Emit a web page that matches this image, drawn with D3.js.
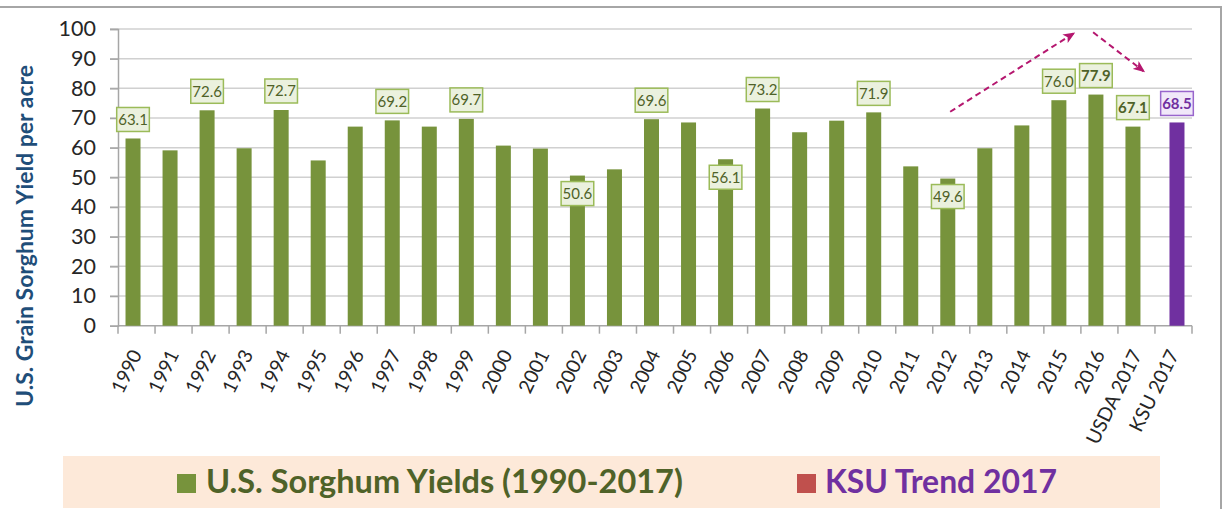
<!DOCTYPE html>
<html>
<head>
<meta charset="utf-8">
<script src="https://cdn.jsdelivr.net/npm/d3@7"></script>
<style>
  html, body { margin: 0; padding: 0; background: #fff; }
  svg { display: block; font-family: Lato, 'Open Sans', sans-serif; }
</style>
</head>
<body>
<svg id="chart" width="1225" height="509"></svg>
<script>
// data
const categories = ['1990', '1991', '1992', '1993', '1994', '1995', '1996', '1997', '1998', '1999',
	'2000', '2001', '2002', '2003', '2004', '2005', '2006', '2007', '2008', '2009',
	'2010', '2011', '2012', '2013', '2014', '2015', '2016', 'USDA 2017', 'KSU 2017'];
const usYields = [63.1, 59.1, 72.6, 59.8, 72.7, 55.7, 67.1, 69.2, 67.1, 69.7,
	60.7, 59.7, 50.6, 52.7, 69.6, 68.5, 56.1, 73.2, 65.2, 69.1,
	71.9, 53.7, 49.6, 59.8, 67.5, 76.0, 77.9, 67.1, null];
const ksuTrend = [null, null, null, null, null, null, null, null, null, null,
	null, null, null, null, null, null, null, null, null, null,
	null, null, null, null, null, null, null, null, 68.5];
const yTicks = [0, 10, 20, 30, 40, 50, 60, 70, 80, 90, 100];
const labelledCats = ['1990', '1992', '1994', '1997', '1999', '2002', '2004', '2006', '2007', '2010', '2012', '2015', '2016', 'USDA 2017'];
const insideLabelCats = ['2002', '2006', '2012'];
const boldLabelCats = ['2016', 'USDA 2017'];
const seriesNames = ['U.S. Sorghum Yields (1990-2017)', 'KSU Trend 2017'];
// dashed trend arrows, in [category position, yield]
const trendArrows = [
	{ from: [22.47, 72.1], to: [25.8, 98.5] },
	{ from: [26.33, 98.9], to: [27.69, 85.8] },
];

const green = '#77933c';
const purple = '#7030a0';

const svg = d3.select('#chart');
const margin = { left: 118, right: 1192, top: 29, bottom: 325.7 };

const x = d3.scaleBand().domain(categories).range([margin.left, margin.right]).padding(0);
const xPos = d3.scaleLinear().domain([0, categories.length]).range([margin.left, margin.right]);
const y = d3.scaleLinear().domain([0, 100]).range([margin.bottom, margin.top]);
const seriesOffset = d3.scalePoint().domain(['us', 'ksu']).range([-3.5, 3.5]);
const barW = 15;

// outer frame
svg.append('path')
	.attr('d', 'M0,7 H1221 V512')
	.attr('fill', 'none')
	.attr('stroke', '#a6a6a6')
	.attr('stroke-width', 2);

// gridlines
svg.append('g')
	.selectAll('line')
	.data(yTicks.filter((t) => t > 0))
	.join('line')
	.attr('x1', margin.left - 8)
	.attr('x2', margin.right)
	.attr('y1', (d) => y(d))
	.attr('y2', (d) => y(d))
	.attr('stroke', '#d0d0d0')
	.attr('stroke-width', 1.5);

// y axis
const yAxis = d3.axisLeft(y).tickValues(yTicks).tickSize(8).tickPadding(14);
const gy = svg.append('g').attr('transform', `translate(${margin.left},0)`).call(yAxis);
gy.select('.domain').attr('stroke', '#a6a6a6').attr('stroke-width', 1.5);
gy.selectAll('.tick line').attr('stroke', '#a6a6a6').attr('stroke-width', 1.5);
gy.selectAll('.tick text')
	.attr('fill', '#262626')
	.style('font-size', '21.5px')
	.style('font-family', 'Lato, sans-serif');

// x axis: ticks between categories
const gx = svg.append('g');
gx.append('line')
	.attr('x1', margin.left)
	.attr('x2', margin.right)
	.attr('y1', margin.bottom)
	.attr('y2', margin.bottom)
	.attr('stroke', '#a6a6a6')
	.attr('stroke-width', 1.5);
gx.selectAll('line.tk')
	.data(d3.range(categories.length + 1))
	.join('line')
	.attr('class', 'tk')
	.attr('x1', (i) => xPos(i))
	.attr('x2', (i) => xPos(i))
	.attr('y1', margin.bottom)
	.attr('y2', margin.bottom + 8)
	.attr('stroke', '#a6a6a6')
	.attr('stroke-width', 1.5);
gx.selectAll('text')
	.data(categories)
	.join('text')
	.attr('transform', (d) => `translate(${x(d) + x.bandwidth() / 2 + 6},354) rotate(-64)`)
	.attr('text-anchor', 'end')
	.attr('fill', '#262626')
	.style('font-size', '19.5px')
	.text((d) => d);

// bars
const bars = svg.append('g');
bars.selectAll('rect.us')
	.data(categories.map((c, i) => ({ c, v: usYields[i] })).filter((d) => d.v != null))
	.join('rect')
	.attr('class', 'us')
	.attr('x', (d) => x(d.c) + x.bandwidth() / 2 + seriesOffset('us') - barW / 2)
	.attr('width', barW)
	.attr('y', (d) => y(d.v))
	.attr('height', (d) => y(0) - y(d.v))
	.attr('fill', green);
bars.selectAll('rect.ksu')
	.data(categories.map((c, i) => ({ c, v: ksuTrend[i] })).filter((d) => d.v != null))
	.join('rect')
	.attr('class', 'ksu')
	.attr('x', (d) => x(d.c) + x.bandwidth() / 2 + seriesOffset('ksu') - barW / 2)
	.attr('width', barW)
	.attr('y', (d) => y(d.v))
	.attr('height', (d) => y(0) - y(d.v))
	.attr('fill', purple);

// data labels
const labelData = [];
categories.forEach((c, i) => {
	if (labelledCats.includes(c) && usYields[i] != null) {
		labelData.push({ c, v: usYields[i], s: 'us', inside: insideLabelCats.includes(c), bold: boldLabelCats.includes(c) });
	}
	if (ksuTrend[i] != null) {
		labelData.push({ c, v: ksuTrend[i], s: 'ksu', inside: false, bold: true });
	}
});
const boxH = 24;
const labels = svg.append('g')
	.selectAll('g')
	.data(labelData)
	.join('g')
	.attr('transform', (d) => {
		const cx = x(d.c) + x.bandwidth() / 2 + seriesOffset(d.s);
		const top = d.inside ? y(d.v) + 6 : y(d.v) - 7 - boxH;
		return `translate(${cx},${top})`;
	});
labels.append('rect')
	.attr('fill', (d) => (d.s === 'ksu' ? '#f1e8f9' : '#ebf1de'))
	.attr('stroke', (d) => (d.s === 'ksu' ? '#9966cc' : '#9bbb59'))
	.attr('stroke-width', 1.5);
labels.append('text')
	.attr('text-anchor', 'middle')
	.attr('y', boxH / 2)
	.attr('dy', '0.36em')
	.attr('fill', (d) => (d.s === 'ksu' ? purple : '#4f6228'))
	.style('font-size', '15px')
	.style('font-weight', (d) => (d.bold ? 700 : 400))
	.text((d) => d.v.toFixed(1));
labels.each(function () {
	const g = d3.select(this);
	const w = g.select('text').node().getComputedTextLength() + 3;
	g.select('rect').attr('x', -w / 2).attr('y', 0).attr('width', w).attr('height', boxH);
});

// arrows
const defs = svg.append('defs');
defs.append('marker')
	.attr('id', 'arrowhead')
	.attr('viewBox', '0 0 12 10')
	.attr('refX', 10)
	.attr('refY', 5)
	.attr('markerWidth', 12)
	.attr('markerHeight', 10)
	.attr('markerUnits', 'userSpaceOnUse')
	.attr('orient', 'auto')
	.append('path')
	.attr('d', 'M0,0 L12,5 L0,10 L3,5 Z')
	.attr('fill', '#b5176f');
svg.append('g')
	.selectAll('line')
	.data(trendArrows)
	.join('line')
	.attr('x1', (d) => xPos(d.from[0]))
	.attr('y1', (d) => y(d.from[1]))
	.attr('x2', (d) => xPos(d.to[0]))
	.attr('y2', (d) => y(d.to[1]))
	.attr('stroke', '#b5176f')
	.attr('stroke-width', 2)
	.attr('stroke-dasharray', '6,4')
	.attr('marker-end', 'url(#arrowhead)');

// y axis title, sized to its span in the picture
const yTitle = svg.append('text')
	.attr('transform', 'translate(33,236) rotate(-90)')
	.attr('text-anchor', 'middle')
	.attr('fill', '#1f4e79')
	.style('font-weight', 700)
	.style('font-size', '20px')
	.text('U.S. Grain Sorghum Yield per acre');
const tLen = yTitle.node().getComputedTextLength();
yTitle.style('font-size', `${(20 * 342) / tLen}px`);

// legend
const legend = svg.append('g');
legend.append('rect')
	.attr('x', 63)
	.attr('y', 456)
	.attr('width', 1097)
	.attr('height', 52)
	.attr('fill', '#fde9d9');
const legendItems = [
	{ name: seriesNames[0], swatch: green, color: '#4f6228', sx: 177, tx: 206, tw: 477 },
	{ name: seriesNames[1], swatch: '#c0504d', color: purple, sx: 797, tx: 825, tw: 232 },
];
legendItems.forEach((it) => {
	legend.append('rect')
		.attr('x', it.sx)
		.attr('y', 474)
		.attr('width', 19)
		.attr('height', 19)
		.attr('fill', it.swatch);
	const t = legend.append('text')
		.attr('x', it.tx)
		.attr('y', 493)
		.attr('fill', it.color)
		.style('font-weight', 700)
		.style('font-size', '28px')
		.text(it.name);
	const len = t.node().getComputedTextLength();
	t.style('font-size', `${(28 * it.tw) / len}px`);
});
</script>
</body>
</html>
